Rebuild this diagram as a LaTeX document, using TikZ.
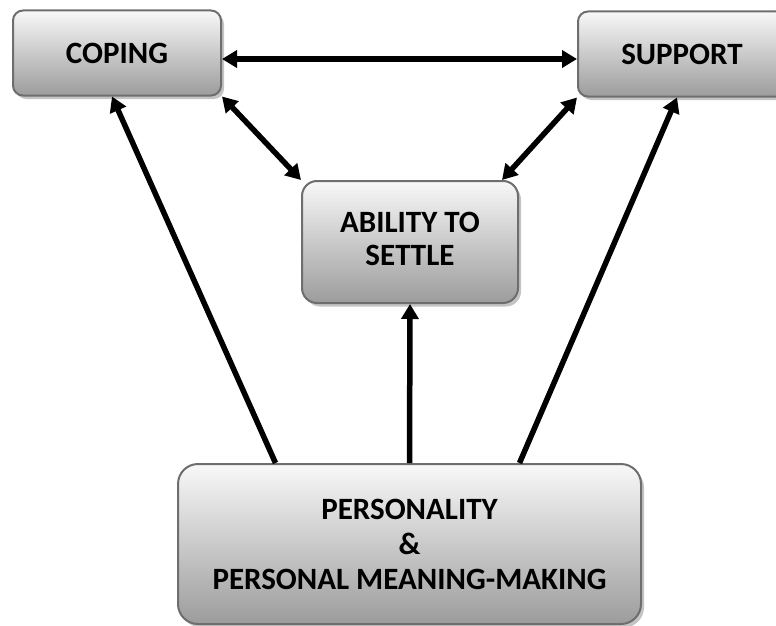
\documentclass[tikz,border=0pt]{standalone}
\usepackage{fontspec}
\setmainfont{Carlito}
\usetikzlibrary{arrows.meta,shadows}
\definecolor{boxedge}{RGB}{110,110,110}
\definecolor{boxtop}{RGB}{248,248,248}
\definecolor{boxbottom}{RGB}{156,156,156}
\definecolor{boxshadow}{RGB}{196,196,196}
\begin{document}
\begin{tikzpicture}[x=1pt,y=-1pt,
  concept/.style={draw=boxedge, line width=2pt, top color=boxtop, bottom color=boxbottom,
    drop shadow={shadow xshift=3pt, shadow yshift=-3.5pt, fill=boxshadow, opacity=1},
    align=center, text=black, inner sep=0pt,
    font=\fontsize{31}{35}\bfseries\selectfont},
  link/.style={line width=5.5pt, -{Triangle[length=15pt,width=17pt]}},
  both/.style={line width=5.5pt, {Triangle[length=15pt,width=17pt]}-{Triangle[length=15pt,width=17pt]}}]
  \useasboundingbox (0,0) rectangle (776,626);
  \clip (0,0) rectangle (776,626);

  % concept boxes
  \node[concept, minimum width=208pt, minimum height=85pt, rounded corners=10pt] (coping) at (117,53) {COPING};
  \node[concept, minimum width=208pt, minimum height=85pt, rounded corners=10pt] (support) at (682,54) {SUPPORT};
  \node[concept, minimum width=216pt, minimum height=122pt, rounded corners=15pt] (ability) at (410,242)
    {\raisebox{-5pt}{\begin{tabular}{@{}c@{}}ABILITY TO\\[-2pt]SETTLE\end{tabular}}};
  \node[concept, minimum width=463pt, minimum height=160pt, rounded corners=20pt] (person) at (409.5,544) {PERSONALITY\\\&\\PERSONAL MEANING-MAKING};

  % mutual links between the three upper boxes
  \draw[both] ([yshift=-6pt]coping.east) -- ([yshift=-5pt]support.west);
  \draw[both] (coping.south east) -- (ability.north west);
  \draw[both] (support.south west) -- ([xshift=-17pt]ability.north east);

  % influences from the base box
  \draw[link] ([xshift=-134pt]person.north) -- ([xshift=-5pt]coping.south);
  \draw[link] (person.north) -- (ability.south);
  \draw[link] ([xshift=110pt]person.north) -- ([xshift=-5pt]support.south);
\end{tikzpicture}
\end{document}
